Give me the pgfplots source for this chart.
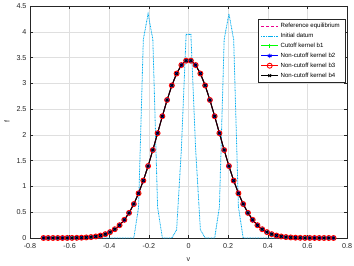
\documentclass[border=0pt]{standalone}
\usepackage{fontspec}
\setmainfont{Liberation Sans}
\usepackage{pgfplots}
\usepackage{pgfplotstable}
\pgfplotsset{compat=1.18}
\definecolor{axgray}{RGB}{38,38,38}
\definecolor{gridgray}{RGB}{223,223,223}

% equilibrium profile (same for all kernels)
\pgfplotstableread{
v f
-0.732 0.0000
-0.708 0.0001
-0.684 0.0001
-0.660 0.0003
-0.636 0.0005
-0.612 0.0010
-0.588 0.0019
-0.564 0.0034
-0.540 0.0061
-0.516 0.0106
-0.492 0.0179
-0.468 0.0295
-0.444 0.0475
-0.420 0.0746
-0.396 0.1141
-0.372 0.1703
-0.348 0.2480
-0.324 0.3521
-0.300 0.4876
-0.276 0.6586
-0.252 0.8675
-0.228 1.114
-0.204 1.396
-0.180 1.706
-0.156 2.033
-0.132 2.362
-0.108 2.677
-0.084 2.959
-0.060 3.190
-0.036 3.354
-0.012 3.439
0.012 3.439
0.036 3.354
0.060 3.190
0.084 2.959
0.108 2.677
0.132 2.362
0.156 2.033
0.180 1.706
0.204 1.396
0.228 1.114
0.252 0.8675
0.276 0.6586
0.300 0.4876
0.324 0.3521
0.348 0.2480
0.372 0.1703
0.396 0.1141
0.420 0.0746
0.444 0.0475
0.468 0.0295
0.492 0.0179
0.516 0.0106
0.540 0.0061
0.564 0.0034
0.588 0.0019
0.612 0.0010
0.636 0.0005
0.660 0.0003
0.684 0.0001
0.708 0.0001
0.732 0.0000
}\eqtab

% initial datum
\pgfplotstableread{
v f
-0.732 0
-0.276 0
-0.252 0.6
-0.228 3.85
-0.204 4.35
-0.180 3.85
-0.156 0.6
-0.132 0
-0.084 0
-0.060 0.16
-0.036 1.72
-0.012 3.95
0.012 3.95
0.036 1.72
0.060 0.16
0.084 0
0.132 0
0.156 0.6
0.180 3.85
0.204 4.35
0.228 3.85
0.252 0.6
0.276 0
0.732 0
}\initab

\begin{document}
\begin{tikzpicture}
\begin{axis}[
    name=ax,
    scale only axis,
    width=317bp, height=232bp,
    xmin=-0.8, xmax=0.8, ymin=0, ymax=4.5,
    xtick={-0.8,-0.6,-0.4,-0.2,0,0.2,0.4,0.6,0.8},
    ytick={0,0.5,1,1.5,2,2.5,3,3.5,4,4.5},
    grid=major,
    major grid style={gridgray, line width=0.4bp},
    axis line style={axgray, line width=0.5bp},
    tick style={axgray, line width=0.5bp},
    tick align=inside,
    major tick length=3bp,
    ticklabel style={font=\fontsize{7.2}{8.5}\selectfont, text=axgray},
    xticklabel style={yshift=-2bp},
    /pgf/number format/assume math mode=true,
    xlabel={v}, ylabel={f},
    label style={font=\fontsize{7.2}{8.5}\selectfont, text=axgray},
    xlabel style={yshift=-2bp},
    legend cell align=left,
    legend style={at={(1,1)}, anchor=north east, xshift=-2bp, yshift=-13bp,
        font=\fontsize{6.1}{7}\selectfont, draw=axgray, line width=0.5bp},
]
\addplot[magenta, line width=0.8bp, dash pattern=on 3bp off 2bp] table[x=v,y=f] {\eqtab};
\addplot[cyan, line width=0.8bp, dash pattern=on 0.9bp off 0.7bp] table[x=v,y=f] {\initab};
\addplot[green, line width=0.9bp, mark=+, mark size=2.4bp, mark options={solid}] table[x=v,y=f] {\eqtab};
\addplot[blue, line width=0.9bp, mark=asterisk, mark size=2.2bp, mark options={solid}] table[x=v,y=f] {\eqtab};
\addplot[red, line width=0.9bp, mark=o, mark size=2.5bp, mark options={solid}] table[x=v,y=f] {\eqtab};
\addplot[black, line width=0.9bp, mark=x, mark size=1.9bp, mark options={solid}] table[x=v,y=f] {\eqtab};
\legend{Reference equilibrium, Initial datum, Cutoff kernel b1, Non-cutoff kernel b2, Non-cutoff kernel b3, Non-cutoff kernel b4}
\end{axis}
\pgfresetboundingbox
\path ([shift={(-30bp,-28bp)}]ax.south west) rectangle ([shift={(7bp,6bp)}]ax.north east);
\end{tikzpicture}
\end{document}
